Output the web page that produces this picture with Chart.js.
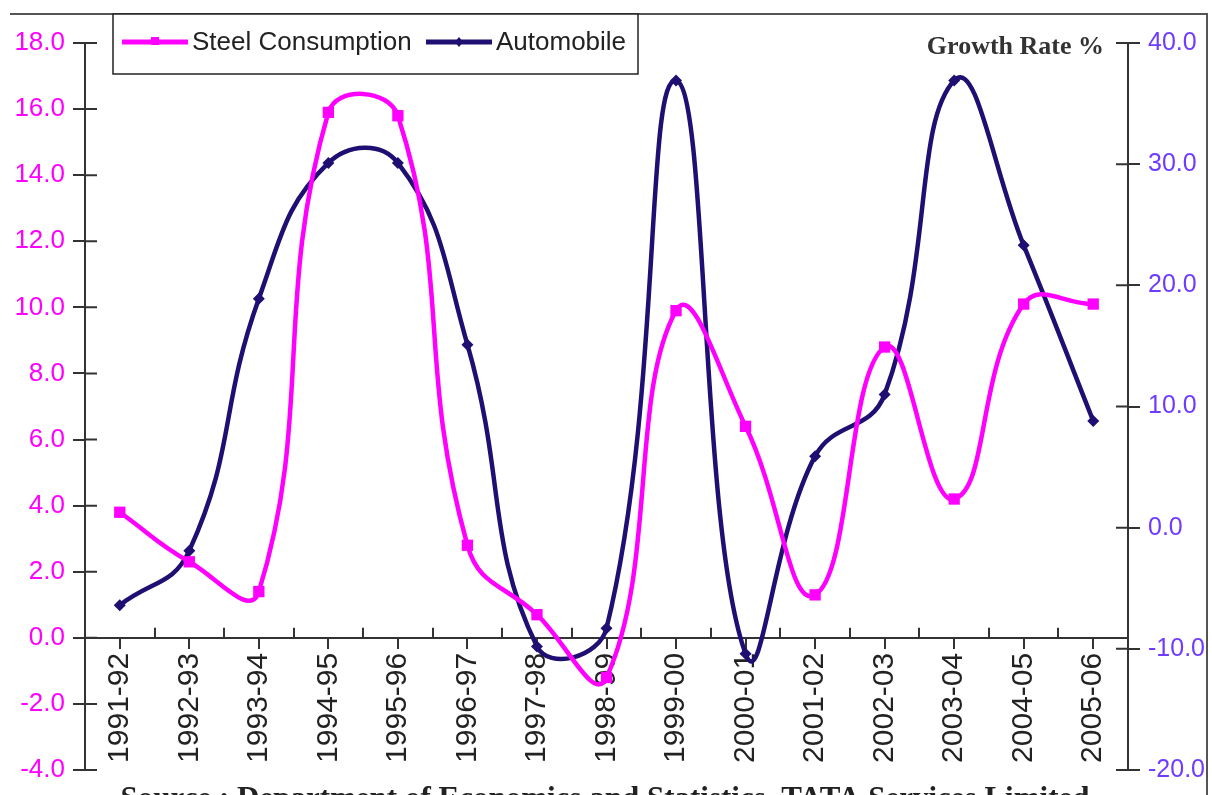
<!DOCTYPE html>
<html>
<head>
<meta charset="utf-8">
<script src="https://cdn.jsdelivr.net/npm/chart.js@4.4.1/dist/chart.umd.min.js"></script>
<style>
  html, body { margin: 0; padding: 0; background: #fff; }
  #wrap { width: 1212px; height: 795px; position: relative; }
</style>
</head>
<body>
<div id="wrap"><canvas id="chart" width="1212" height="795"></canvas></div>
<script>
// data
const categories = ['1991-92', '1992-93', '1993-94', '1994-95', '1995-96', '1996-97', '1997-98',
  '1998-99', '1999-00', '2000-01', '2001-02', '2002-03', '2003-04', '2004-05', '2005-06']
const steelConsumption = [3.8, 2.3, 1.4, 15.9, 15.8, 2.8, 0.7, -1.2, 9.9, 6.4, 1.3, 8.8, 4.2, 10.1, 10.1]
const automobile = [-6.4, -1.9, 18.9, 30.1, 30.1, 15.1, -9.8, -8.3, 36.9, -10.4, 5.9, 11.0, 36.9, 23.3, 8.8]

const leftRange = [-4, 18, 2]
const rightRange = [-20, 40, 10]

const rightLabel = 'Growth Rate %'
const sourceText = 'Source : Department of Economics and Statistics, TATA Services Limited'

const MAGENTA = '#FF00FF'
const NAVY = '#1F0F73'
const VIOLET = '#6F3BFF'
const AXIS = '#333333'
const SANS = "'Liberation Sans', Arial, sans-serif"
const SERIF = '"Liberation Serif", "Times New Roman", serif'

// extra decoration: frame line, inner halves of tick marks, legend box, captions
const decor = {
  id: 'decor',
  afterDraw(chart) {
    const { ctx, chartArea, scales } = chart
    const x = scales.x, yl = scales.y, yr = scales.y2
    ctx.save()

    // frame
    ctx.strokeStyle = '#555'
    ctx.lineWidth = 2
    ctx.beginPath()
    ctx.moveTo(10, 14)
    ctx.lineTo(1207, 14)
    ctx.lineTo(1207, 795)
    ctx.stroke()

    // tick marks crossing the axes
    ctx.strokeStyle = AXIS
    ctx.lineWidth = 2
    const y0 = yl.getPixelForValue(0)
    ctx.beginPath()
    for (let i = 1; i < categories.length; i++) {
      const px = Math.round(x.getPixelForValue(i - 0.5))
      ctx.moveTo(px, y0 - 10)
      ctx.lineTo(px, y0)
    }
    for (let v = leftRange[0]; v <= leftRange[1]; v += leftRange[2]) {
      const py = yl.getPixelForValue(v)
      ctx.moveTo(chartArea.left, py)
      ctx.lineTo(chartArea.left + 12, py)
    }
    for (let v = rightRange[0]; v <= rightRange[1]; v += rightRange[2]) {
      const py = yr.getPixelForValue(v)
      ctx.moveTo(chartArea.right, py)
      ctx.lineTo(chartArea.right - 12, py)
    }
    ctx.stroke()

    // legend
    ctx.fillStyle = '#fff'
    ctx.fillRect(113, 14, 525, 60)
    ctx.strokeStyle = '#222'
    ctx.lineWidth = 1.5
    ctx.strokeRect(113, 14, 525, 60)
    ctx.font = '26px ' + SANS
    ctx.textBaseline = 'middle'
    ctx.textAlign = 'left'
    let lx = 122
    const ly = 42
    chart.data.datasets.forEach((ds, i) => {
      if (i === 1) lx = 426
      ctx.strokeStyle = ds.borderColor
      ctx.fillStyle = ds.borderColor
      ctx.lineWidth = 5
      ctx.beginPath()
      ctx.moveTo(lx, ly)
      ctx.lineTo(lx + 66, ly)
      ctx.stroke()
      const mx = lx + 33
      ctx.beginPath()
      if (ds.pointStyle === 'rect') {
        ctx.rect(mx - 4, ly - 5, 8, 8)
      } else {
        ctx.moveTo(mx, ly - 5); ctx.lineTo(mx + 4, ly); ctx.lineTo(mx, ly + 5); ctx.lineTo(mx - 4, ly)
      }
      ctx.fill()
      ctx.fillStyle = '#222'
      ctx.fillText(ds.label, lx + 70, ly + 1)
    })

    // right axis caption
    ctx.font = 'bold 26px ' + SERIF
    ctx.fillStyle = '#333'
    ctx.textAlign = 'right'
    ctx.fillText(rightLabel, 1104, 47)

    // source line, cut by the bottom edge like the reference
    ctx.font = 'bold 31px ' + SERIF
    ctx.fillStyle = '#222'
    ctx.textAlign = 'center'
    ctx.textBaseline = 'top'
    ctx.fillText(sourceText, 605, 784)

    ctx.restore()
  }
}

const ctx = document.getElementById('chart').getContext('2d')
new Chart(ctx, {
  type: 'line',
  data: {
    labels: categories,
    datasets: [{
      label: 'Steel Consumption',
      data: steelConsumption,
      yAxisID: 'y',
      borderColor: MAGENTA,
      backgroundColor: MAGENTA,
      borderWidth: 4.5,
      tension: 0.45,
      pointStyle: 'rect',
      pointRadius: 8,
      pointBorderWidth: 0
    }, {
      label: 'Automobile',
      data: automobile,
      yAxisID: 'y2',
      borderColor: NAVY,
      backgroundColor: NAVY,
      borderWidth: 4.5,
      tension: 0.45,
      pointStyle: 'rectRot',
      pointRadius: 6,
      pointBorderWidth: 0
    }]
  },
  options: {
    responsive: false,
    animation: false,
    layout: { padding: { top: 43, bottom: 25, left: 0, right: 0 } },
    plugins: { legend: { display: false }, tooltip: { enabled: false } },
    scales: {
      x: {
        type: 'category',
        offset: true,
        position: { y: 0 },
        grid: { drawOnChartArea: false, tickLength: 10, color: AXIS, lineWidth: 2 },
        border: { display: true, color: AXIS, width: 2 },
        ticks: {
          autoSkip: false,
          minRotation: 90,
          maxRotation: 90,
          padding: 5,
          color: '#222',
          font: { family: SANS, size: 30 }
        }
      },
      y: {
        position: 'left',
        min: leftRange[0],
        max: leftRange[1],
        ticks: {
          stepSize: leftRange[2],
          color: MAGENTA,
          padding: 8,
          font: { family: SANS, size: 26 },
          callback: v => v.toFixed(1)
        },
        grid: { drawOnChartArea: false, tickLength: 12, color: AXIS, lineWidth: 2 },
        border: { display: true, color: AXIS, width: 2 },
        afterFit: s => { s.width = 85 }
      },
      y2: {
        position: 'right',
        min: rightRange[0],
        max: rightRange[1],
        ticks: {
          stepSize: rightRange[2],
          color: VIOLET,
          padding: 8,
          font: { family: SANS, size: 25 },
          callback: v => v.toFixed(1)
        },
        grid: { drawOnChartArea: false, tickLength: 12, color: AXIS, lineWidth: 2 },
        border: { display: true, color: AXIS, width: 2 },
        afterFit: s => { s.width = 84 }
      }
    }
  },
  plugins: [decor]
})
</script>
</body>
</html>
